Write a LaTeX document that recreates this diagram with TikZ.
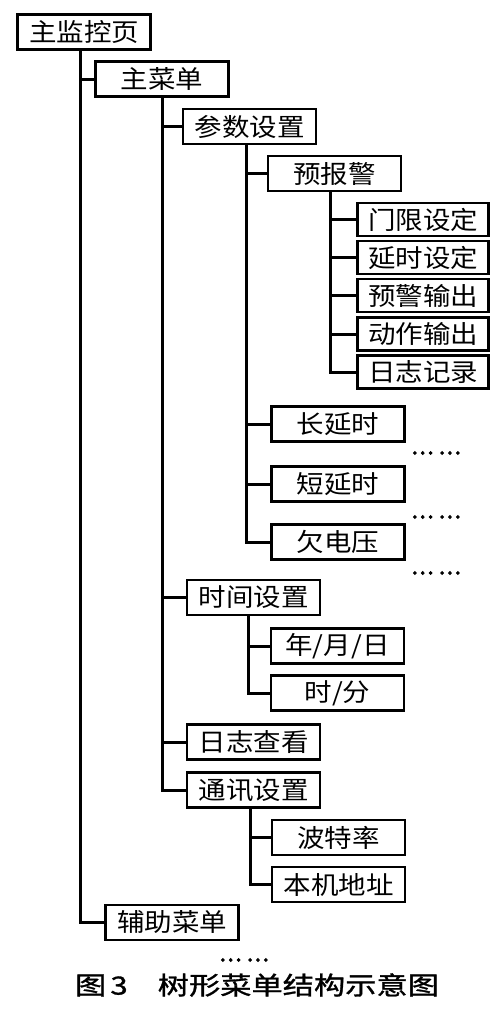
\documentclass[tikz,border=0pt]{standalone}
\usepackage{fontspec}
\newfontfamily\cjk[FakeStretch=1.1]{Noto Sans CJK SC}
\newfontfamily\cjkbt[FakeStretch=1.25,FakeBold=1.2]{Noto Sans CJK SC}
\newfontfamily\cjkdian[FakeBold=4]{Noto Sans CJK SC}
\tikzset{
  caidan/.style={draw, line width=2.8pt, minimum width=133pt, minimum height=35pt,
    inner sep=0pt, font=\cjk\fontsize{25}{25}\selectfont},
  zixiang/.style={caidan, minimum width=131pt, minimum height=33pt},
  lianxian/.style={line width=3pt},
  shenglue/.style={inner sep=0pt, font=\cjkdian\fontsize{21}{21}\selectfont}
}
\begin{document}
\begin{tikzpicture}[x=1pt, y=-1pt]
  \useasboundingbox (0,0) rectangle (502,1021);
  % 1. 各级菜单框
  \node[caidan] (zjk) at (84,32) {主监控页};
  \node[caidan] (zcd) at (162,79) {主菜单};
  \node[caidan] (cssz) at (249.5,126.5) {参数设置};
  \node[caidan] (ybj) at (334.5,173.5) {预报警};
  % 预报警的子项 (上下紧贴)
  \node[zixiang] (mxsd) at (423,219.5) {门限设定};
  \node[zixiang] (yssd) at (423,257.5) {延时设定};
  \node[zixiang] (yjsc) at (423,295.5) {预警输出};
  \node[zixiang] (dzsc) at (423,334) {动作输出};
  \node[zixiang] (rzjl) at (423,372) {日志记录};
  \node[caidan] (cys) at (338,424) {长延时};
  \node[caidan] (dys) at (338,484) {短延时};
  \node[caidan] (qdy) at (338,542) {欠电压};
  \node[caidan] (sjsz) at (253.5,597.5) {时间设置};
  \node[caidan] (nyr) at (337.5,646) {年/月/日};
  \node[caidan] (sf) at (337.5,693) {时/分};
  \node[caidan] (rzck) at (253.5,742) {日志查看};
  \node[caidan] (txsz) at (253.5,790) {通讯设置};
  \node[caidan] (btl) at (338.5,837.5) {波特率};
  \node[caidan] (bjdz) at (338.5,884.5) {本机地址};
  \node[caidan] (fzcd) at (172,922.5) {辅助菜单};

  % 2. 省略号
  \node[shenglue] (sl1) at (436,453) {…\hspace{5pt}…};
  \node[shenglue] (sl2) at (436,517) {…\hspace{5pt}…};
  \node[shenglue] (sl3) at (436,573) {…\hspace{5pt}…};
  \node[shenglue] (sl4) at (244,960) {…\hspace{5pt}…};

  % 3. 树形连线 (竖干 + 横枝)
  \coordinate (g0) at ([xshift=-4pt]zjk.south);
  \coordinate (g1) at (zcd.south);
  \coordinate (g2) at ([xshift=-3.5pt]cssz.south);
  \coordinate (g3) at ([xshift=-4.5pt]ybj.south);
  \coordinate (g4) at ([xshift=-5.5pt]sjsz.south);
  \coordinate (g5) at ([xshift=-3.5pt]txsz.south);
  \foreach \c in {zcd,fzcd} \draw[lianxian] (g0) |- (\c.west);
  \foreach \c in {cssz,sjsz,rzck,txsz} \draw[lianxian] (g1) |- (\c.west);
  \foreach \c in {ybj,cys,dys,qdy} \draw[lianxian] (g2) |- (\c.west);
  \foreach \c in {mxsd,yssd,yjsc,dzsc,rzjl} \draw[lianxian] (g3) |- (\c.west);
  \foreach \c in {nyr,sf} \draw[lianxian] (g4) |- (\c.west);
  \foreach \c in {btl,bjdz} \draw[lianxian] (g5) |- (\c.west);

  % 4. 图题
  \node[inner sep=0pt, font=\cjkbt\fontsize{25}{25}\selectfont] (titi) at (257,985)
    {图\,3\hspace{30pt}树形菜单结构示意图};
\end{tikzpicture}
\end{document}
